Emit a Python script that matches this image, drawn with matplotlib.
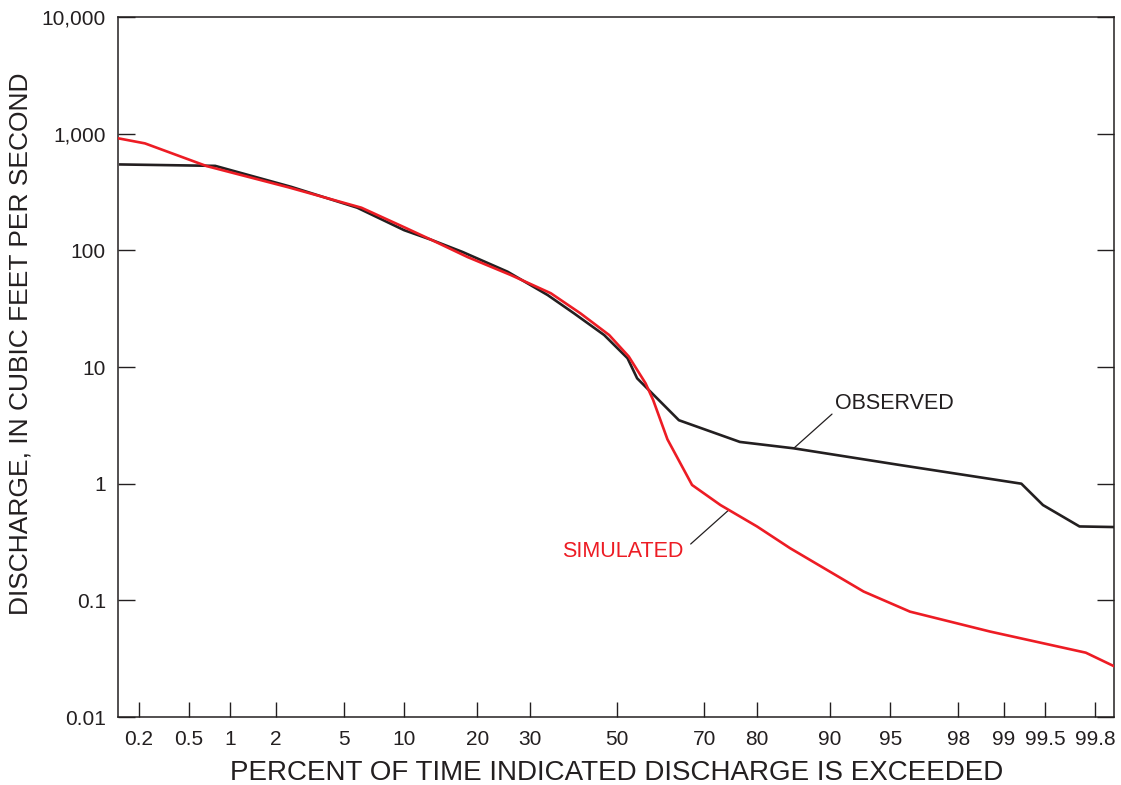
import numpy as np
import matplotlib.pyplot as plt
from matplotlib.ticker import NullLocator
from statistics import NormalDist

plt.rcParams['font.family'] = ['Liberation Sans', 'DejaVu Sans']

# percent of time exceeded vs discharge (cfs)
obs_pct = [0.14, 0.78, 2.5, 5.9, 10.0, 13.2, 17.6, 25.5, 33.8, 39.8, 46.9,
           52.5, 54.8, 64.5, 77.0, 85.6, 95.5, 99.25, 99.48, 99.73, 99.86]
obs_q = [545, 530, 350, 232, 149, 123, 97, 65.6, 41.4, 28.8, 18.8,
         11.9, 8.0, 3.5, 2.28, 2.01, 1.45, 1.0, 0.656, 0.43, 0.425]

sim_pct = [0.135, 0.225, 0.675, 2.4, 6.2, 10.0, 13.2, 18.4, 26.1, 34.5, 41.3,
           48.1, 52.8, 56.8, 58.6, 61.9, 67.4, 73.3, 80.0, 85.1, 93.1,
           96.1, 98.76, 99.76, 99.86]
sim_q = [912, 826, 528, 347, 232, 158, 123, 87.7, 61.5, 42.9, 28.8,
         18.8, 12.3, 7.25, 5.2, 2.4, 0.975, 0.656, 0.43, 0.28, 0.119,
         0.080, 0.054, 0.0356, 0.0273]

xticks = [0.2, 0.5, 1, 2, 5, 10, 20, 30, 50, 70, 80, 90, 95, 98, 99, 99.5, 99.8]
xtick_labels = ['0.2', '0.5', '1', '2', '5', '10', '20', '30', '50', '70', '80',
                '90', '95', '98', '99', '99.5', '99.8']
yticks = [0.01, 0.1, 1, 10, 100, 1000, 10000]
ytick_labels = ['0.01', '0.1', '1', '10', '100', '1,000', '10,000']

nd = NormalDist()
_ppf = np.vectorize(lambda p: nd.inv_cdf(min(max(p / 100.0, 1e-9), 1 - 1e-9)),
                    otypes=[float])
_cdf = np.vectorize(lambda z: nd.cdf(z) * 100.0, otypes=[float])


def fwd(p):
    return _ppf(np.asarray(p, dtype=float))


def inv(z):
    return _cdf(np.asarray(z, dtype=float))


black = '#231f20'
red = '#ed1c24'

fig = plt.figure(figsize=(11.21, 7.85), dpi=100)
ax = fig.add_axes([0.1057, 0.0866, 0.8881, 0.8917])

ax.plot(obs_pct, obs_q, color=black, lw=1.9, zorder=3)
ax.plot(sim_pct, sim_q, color=red, lw=1.9, zorder=4)

ax.set_xscale('function', functions=(fwd, inv))
ax.set_yscale('log')
ax.set_xlim(float(inv(-3.0)), float(inv(2.99)))
ax.set_ylim(0.01, 10000)

ax.set_xticks(xticks)
ax.set_xticklabels(xtick_labels)
ax.xaxis.set_minor_locator(NullLocator())
ax.set_yticks(yticks)
ax.set_yticklabels(ytick_labels)
ax.yaxis.set_minor_locator(NullLocator())

ax.tick_params(axis='x', direction='in', length=11, width=1.0, color=black,
               labelsize=15, pad=9, labelcolor=black, top=False)
ax.tick_params(axis='y', direction='in', length=12, width=1.0, color=black,
               labelsize=15, pad=9, labelcolor=black, right=True)
for s in ax.spines.values():
    s.set_linewidth(1.1)
    s.set_color(black)

ax.set_xlabel('PERCENT OF TIME INDICATED DISCHARGE IS EXCEEDED',
              fontsize=20, color=black, labelpad=8)
ax.set_ylabel('DISCHARGE, IN CUBIC FEET PER SECOND',
              fontsize=19, color=black)
ax.yaxis.set_label_coords(-0.0859, 0.533)

# leader lines and labels
ax.annotate('', xy=(85.6, 2.01), xytext=(90.2, 3.95),
            arrowprops=dict(arrowstyle='-', color=black, lw=0.9,
                            shrinkA=0, shrinkB=0))
ax.text(90.5, 4.9, 'OBSERVED', fontsize=15.5, color=black,
        ha='left', va='center')
ax.annotate('', xy=(74.9, 0.594), xytext=(67.1, 0.304),
            arrowprops=dict(arrowstyle='-', color=black, lw=0.9,
                            shrinkA=0, shrinkB=0))
ax.text(65.5, 0.26, 'SIMULATED', fontsize=15.5, color=red,
        ha='right', va='center')

fig.savefig('out.png', dpi=100)
